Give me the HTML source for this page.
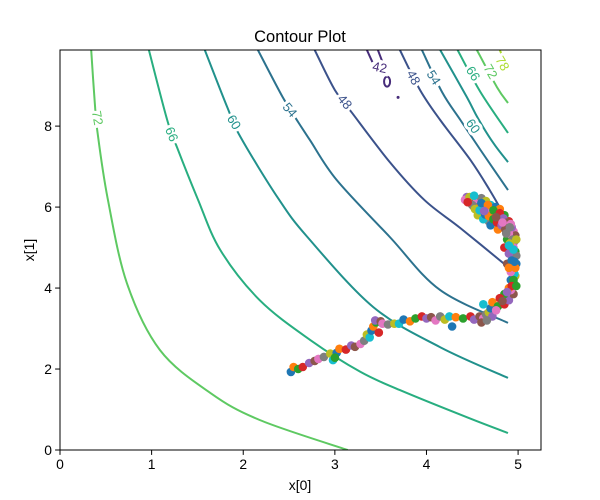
<!DOCTYPE html>
<html><head><meta charset="utf-8"><style>
html,body{margin:0;padding:0;background:#fff;}
svg{display:block;font-family:"Liberation Sans","DejaVu Sans",sans-serif;}
</style></head><body>
<svg id="chart" width="600" height="500" viewBox="0 0 600 500">
<rect x="0" y="0" width="600" height="500" fill="#fff"/>
<text x="300" y="42" text-anchor="middle" font-size="16.5">Contour Plot</text>
<g id="plot"></g>
<rect x="60" y="50" width="481" height="400" fill="none" stroke="#000" stroke-width="1"/>
<g id="xticks"></g>
<g id="yticks"></g>
<text x="300" y="490" text-anchor="middle" font-size="13.9">x[0]</text>
<text x="0" y="0" transform="translate(34,250) rotate(-90)" text-anchor="middle" font-size="13.9">x[1]</text>
</svg>
<script>
const xTicks = [0,1,2,3,4,5];
const yTicks = [0,2,4,6,8];
const levels = ["72","66","60","54","48","42","48","54","60","66","72","78"];
const levelColors = ["#5ec962","#28ae80","#21918c","#2c728e","#3b528b","#472c7a","#3b528b","#2c728e","#21918c","#28ae80","#5ec962","#addc30"];
const c72L = [[0.34,9.88],[0.38,8.57],[0.41,7.83],[0.52,6.22],[0.73,4.12],[1.09,2.47],[1.64,1.41],[2.18,0.74],[3.14,0]];
const c66L = [[0.97,9.88],[1.17,8.15],[1.28,7.46],[1.50,6.22],[1.75,4.94],[2.18,3.70],[2.73,2.72],[3.28,1.93],[3.71,1.48],[4.44,0.81],[4.89,0.42]];
const c60L = [[1.58,9.88],[1.83,8.44],[1.97,7.73],[2.38,6.22],[2.70,5.26],[3.42,3.53],[4.15,2.54],[4.89,1.78]];
const c54L = [[2.16,9.88],[2.43,8.72],[2.60,8.10],[2.73,7.65],[3.02,6.67],[3.60,5.26],[4.15,3.95],[4.89,3.14]];
const c48L = [[2.78,9.88],[3.00,8.89],[3.19,8.32],[3.60,7.11],[3.98,6.17],[4.37,5.48],[4.89,4.52]];
const c42 = [[3.35,9.88],[3.41,9.58]];
const c42b = [[3.47,9.88],[3.52,9.58]];
const c48R = [[3.71,9.88],[3.93,8.89],[4.15,8.15],[4.48,7.16],[4.69,6.42],[4.89,5.63]];
const c54R = [[3.95,9.88],[4.17,8.84],[4.37,8.15],[4.59,7.41],[4.89,6.42]];
const c60R = [[4.15,9.88],[4.44,8.72],[4.56,8.20],[4.73,7.58],[4.89,7.11]];
const c66R = [[4.34,9.88],[4.59,8.84],[4.89,7.83]];
const c72R = [[4.55,9.88],[4.77,8.96],[4.89,8.57]];
const c78R = [[4.80,9.88],[4.89,9.40]];
const contourLines = [c72L,c66L,c60L,c54L,c48L,c42,c48R,c54R,c60R,c66R,c72R,c78R];
const labelPos = [[0.41,8.2],[1.22,7.8],[1.9,8.1],[2.51,8.4],[3.11,8.6],[3.49,9.45],[3.86,9.2],[4.08,9.2],[4.51,8.0],[4.51,9.3],[4.7,9.35],[4.83,9.55]];
const labelRot = [80,68,58,50,50,12,62,58,55,58,60,60];
const pts = [[2.52,1.93],[2.55,2.05],[2.6,2.0],[2.65,2.05],[2.72,2.15],[2.78,2.2],[2.82,2.25],[2.88,2.3],[2.95,2.38],[2.98,2.22],[3.02,2.4],[3.05,2.5],[3.0,2.28],[3.12,2.48],[3.18,2.58],[3.22,2.55],[3.28,2.62],[3.32,2.7],[3.35,2.85],[3.38,2.78],[3.4,2.95],[3.42,3.05],[3.45,3.15],[3.48,2.9],[3.44,3.2],[3.5,3.18],[3.52,3.12],[3.58,3.1],[3.65,3.12],[3.7,3.12],[3.75,3.22],[3.82,3.18],[3.88,3.25],[3.95,3.3],[4.0,3.25],[4.05,3.28],[4.1,3.2],[4.15,3.3],[4.2,3.22],[4.25,3.3],[4.28,3.05],[4.32,3.28],[4.4,3.25],[4.48,3.3],[4.52,3.22],[4.58,3.3],[4.62,3.25],[4.65,3.35],[4.68,3.4],[4.62,3.6],[4.7,3.5],[4.72,3.65],[4.78,3.55],[4.85,3.6],[4.9,3.7],[4.95,3.85],[4.92,3.95],[4.96,4.1],[4.97,4.3],[4.95,4.45],[4.98,4.6],[4.94,4.75],[4.97,4.9],[4.93,5.0],[4.96,5.15],[4.92,5.3],[4.95,5.4],[4.9,5.45],[4.88,5.55],[4.85,5.6],[4.82,5.7],[4.8,5.62],[4.78,5.78],[4.75,5.85],[4.72,5.75],[4.7,5.9],[4.66,5.95],[4.62,6.0],[4.6,5.88],[4.58,6.05],[4.55,6.1],[4.52,6.0],[4.5,6.15],[4.46,6.2],[4.44,6.25],[4.48,6.1],[4.55,6.2],[4.6,6.22],[4.65,6.15],[4.7,6.05],[4.75,6.0],[4.8,5.95],[4.85,5.8],[4.9,5.65],[4.93,5.5],[4.97,5.3],[4.95,5.0],[4.98,4.8],[4.94,4.55],[4.96,4.35],[4.92,4.2],[4.9,4.0],[4.85,3.85],[4.8,3.75],[4.72,3.3],[4.6,3.15],[4.42,6.18],[4.68,5.65],[4.56,5.8],[4.62,5.7],[4.7,5.55],[4.78,5.45],[4.88,5.2],[4.85,5.0],[4.9,4.85],[4.88,4.6],[4.92,4.4],[4.5,6.05],[4.53,5.95],[4.58,5.92],[4.64,5.82],[4.68,5.78],[4.73,5.7],[4.77,5.62],[4.82,5.55],[4.86,5.45],[4.9,5.35],[4.94,5.2],[4.91,5.1],[4.95,4.95],[4.93,4.68],[4.97,4.5],[4.95,4.2],[4.93,4.05],[4.88,3.9],[4.83,3.68],[4.76,3.45],[4.66,3.2],[4.47,6.25],[4.52,6.28],[4.6,6.1],[4.67,6.05],[4.73,5.92],[4.8,5.85],[4.84,5.72],[4.88,5.62],[4.92,5.58],[4.87,5.35],[4.98,5.2],[4.9,5.05],[4.96,4.65],[4.9,4.5],[4.98,4.05],[4.45,6.12],[4.63,5.9],[4.76,5.75],[4.83,5.62],[4.91,5.5]];
const tab10 = ["#1f77b4","#ff7f0e","#2ca02c","#d62728","#9467bd","#8c564b","#e377c2","#7f7f7f","#bcbd22","#17becf"];

const NS = "http://www.w3.org/2000/svg";
const X0=60, X1=541, Y0=450, Y1=50, XMAX=5.25, YMAX=9.88;
function sx(v){return X0+(X1-X0)*v/XMAX;}
function sy(v){return Y0-(Y0-Y1)*v/YMAX;}
function mk(tag,attrs,parent){const e=document.createElementNS(NS,tag);for(const k in attrs)e.setAttribute(k,attrs[k]);parent.appendChild(e);return e;}
function smoothPath(line){
  const P=line.map(p=>[sx(p[0]),sy(p[1])]);
  let d='M'+P[0][0].toFixed(1)+','+P[0][1].toFixed(1);
  for(let i=0;i<P.length-1;i++){
    const p0=P[Math.max(i-1,0)],p1=P[i],p2=P[i+1],p3=P[Math.min(i+2,P.length-1)];
    const c1=[p1[0]+(p2[0]-p0[0])/6,p1[1]+(p2[1]-p0[1])/6];
    const c2=[p2[0]-(p3[0]-p1[0])/6,p2[1]-(p3[1]-p1[1])/6];
    d+=' C'+c1[0].toFixed(1)+','+c1[1].toFixed(1)+' '+c2[0].toFixed(1)+','+c2[1].toFixed(1)+' '+p2[0].toFixed(1)+','+p2[1].toFixed(1);
  }
  return d;
}

const plot=document.getElementById('plot');
const defs=mk('defs',{},plot);
const cp=mk('clipPath',{id:'clip'},defs);
mk('rect',{x:X0,y:Y1,width:X1-X0,height:Y0-Y1},cp);
const g=mk('g',{'clip-path':'url(#clip)'},plot);

contourLines.forEach((line,i)=>{
  const path=mk('path',{d:smoothPath(line),fill:'none',stroke:levelColors[i],'stroke-width':2},g);
  
  
});
const p42b=mk('path',{d:smoothPath(c42b),fill:'none',stroke:levelColors[5],'stroke-width':2},g);


const loop=mk('ellipse',{cx:sx(3.57),cy:sy(9.1),rx:3,ry:5,fill:'none',stroke:levelColors[5],'stroke-width':2},g);


const dot=mk('circle',{cx:sx(3.69),cy:sy(8.71),r:1.5,fill:levelColors[5]},g);



labelPos.forEach((p,i)=>{
  const x=sx(p[0]), y=sy(p[1]);
  const t=mk('text',{x:0,y:0,transform:`translate(${x.toFixed(1)},${y.toFixed(1)}) rotate(${labelRot[i]})`,'text-anchor':'middle','dominant-baseline':'central','font-size':13,fill:levelColors[i],stroke:'#fff','stroke-width':6,'paint-order':'stroke'},g);
  t.textContent=levels[i];
  
  
});

pts.forEach((p,i)=>{
  const c=mk('circle',{cx:sx(p[0]).toFixed(1),cy:sy(p[1]).toFixed(1),r:4.3,fill:tab10[i%10]},g);
  
  
});

const xg=document.getElementById('xticks');
xTicks.forEach(v=>{
  const x=sx(v);
  const l=mk('line',{x1:x,x2:x,y1:Y0,y2:Y0+4.9,stroke:'#000','stroke-width':1},xg);
  
  
  const t=mk('text',{x:x,y:Y0+19,'text-anchor':'middle','font-size':13.9},xg);
  t.textContent=v;
  
  
});
const yg=document.getElementById('yticks');
yTicks.forEach(v=>{
  const y=sy(v);
  const l=mk('line',{x1:X0-4.9,x2:X0,y1:y,y2:y,stroke:'#000','stroke-width':1},yg);
  
  
  const t=mk('text',{x:X0-8,y:y+5,'text-anchor':'end','font-size':13.9},yg);
  t.textContent=v;
  
  
});
</script>
</body></html>
